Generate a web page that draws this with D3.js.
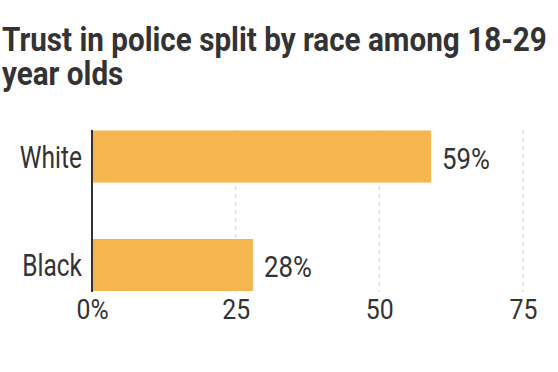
<!DOCTYPE html>
<html>
<head>
<meta charset="utf-8">
<script src="https://cdn.jsdelivr.net/npm/d3@7"></script>
<style>
  body { margin: 0; background: #fff; }
  svg text { font-family: Roboto, "Liberation Sans", sans-serif; fill: #333; }
</style>
</head>
<body>
<div id="chart"></div>
<script>
// trust in police by race, 18-29 year olds
var grupos = ["White", "Black"];
var valores = [59, 28];
var ticks = [0, 25, 50, 75];
var titulo = ["Trust in police split by race among 18-29", "year olds"];

var W = 558, H = 372;
var svg = d3.select("#chart").append("svg").attr("width", W).attr("height", H);

// la fuente original es condensada: estiramos en x con un scale
function condensar(sel, k) {
  sel.each(function () {
    var t = d3.select(this);
    var px = +t.attr("x") || 0, py = +t.attr("y") || 0;
    t.attr("x", 0).attr("y", 0)
      .attr("transform", "translate(" + px + "," + py + ") scale(" + k + ",1)");
  });
}

// titulo en dos lineas
var tit = svg.append("g").selectAll("text")
  .data(titulo)
  .enter().append("text")
  .attr("x", 2)
  .attr("y", function (d, i) { return 51 + i * 34; })
  .attr("font-size", 33)
  .attr("font-weight", "bold")
  .text(function (d) { return d; });
var kTit = 545 / tit.nodes()[0].getComputedTextLength();
condensar(tit, kTit);

var x = d3.scaleLinear().domain([0, 75]).range([92, 523]);
var y = d3.scaleBand().domain(grupos).range([130.5, 291]).paddingInner(0.52).paddingOuter(0);

// grilla punteada
svg.append("g").selectAll("line")
  .data(ticks.slice(1))
  .enter().append("line")
  .attr("x1", function (d) { return x(d); })
  .attr("x2", function (d) { return x(d); })
  .attr("y1", 130).attr("y2", 292)
  .attr("stroke", "#ddd")
  .attr("stroke-width", 1.5)
  .attr("stroke-dasharray", "4,4");

var datos = grupos.map(function (g, i) { return { g: g, v: valores[i] }; });

svg.append("g").selectAll("rect")
  .data(datos)
  .enter().append("rect")
  .attr("x", x(0))
  .attr("y", function (d) { return y(d.g); })
  .attr("width", function (d) { return x(d.v) - x(0); })
  .attr("height", y.bandwidth())
  .attr("fill", "#f6b64f");

// etiquetas de valor
var etiq = svg.append("g").selectAll("text")
  .data(datos)
  .enter().append("text")
  .attr("x", function (d) { return x(d.v) + 11; })
  .attr("y", function (d) { return y(d.g) + y.bandwidth() / 2; })
  .attr("dy", "0.4em")
  .attr("font-size", 30)
  .text(function (d) { return d.v + "%"; });
condensar(etiq, 0.86);

// categorias
var cats = svg.append("g").selectAll("text")
  .data(grupos)
  .enter().append("text")
  .attr("x", 82)
  .attr("y", function (d) { return y(d) + y.bandwidth() / 2; })
  .attr("dy", "0.36em")
  .attr("text-anchor", "end")
  .attr("font-size", 31)
  .text(function (d) { return d; });
condensar(cats, 0.79);

// eje x con etiquetas
var ejeX = d3.axisBottom(x)
  .tickValues(ticks)
  .tickSize(0)
  .tickPadding(0)
  .tickFormat(function (d) { return d === 0 ? "0%" : d; });
var gx = svg.append("g").attr("transform", "translate(0,318.5)").call(ejeX);
gx.select(".domain").remove();
gx.attr("font-family", null).attr("font-size", null);
var tx = gx.selectAll("text").attr("font-size", 27).attr("dy", null).attr("y", 0).style("fill", "#333");
condensar(tx, 0.92);

// linea del eje y
svg.append("line")
  .attr("x1", x(0)).attr("x2", x(0))
  .attr("y1", 130).attr("y2", 292)
  .attr("stroke", "#333")
  .attr("stroke-width", 2);
</script>
</body>
</html>
